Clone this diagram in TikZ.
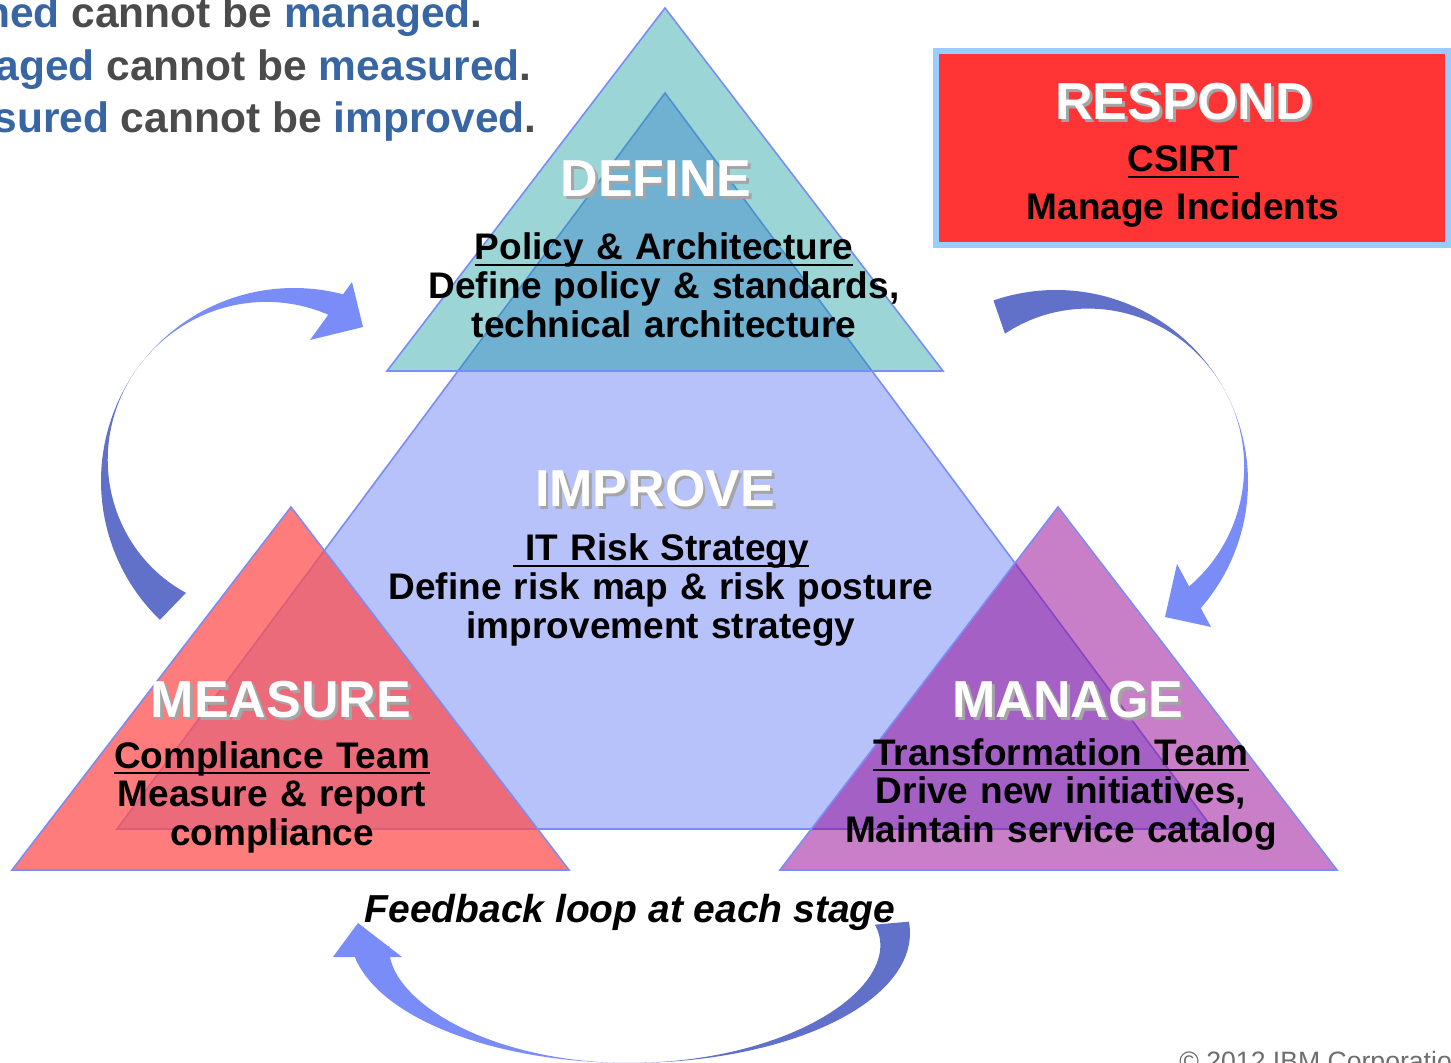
\documentclass[tikz,border=0pt]{standalone}
\usepackage{fontspec}
\setmainfont{Liberation Sans}
\usetikzlibrary{positioning}

\definecolor{improvefill}{RGB}{184,194,250}
\definecolor{edgeblue}{RGB}{122,140,245}
\definecolor{definecol}{RGB}{5,152,152}
\definecolor{measurecol}{RGB}{255,76,76}
\definecolor{managecol}{RGB}{147,0,147}
\definecolor{arrowlight}{RGB}{122,140,248}
\definecolor{arrowdark}{RGB}{97,112,200}
\definecolor{respondred}{RGB}{255,52,52}
\definecolor{respondframe}{RGB}{153,204,255}
\definecolor{quoteblue}{RGB}{55,102,163}
\definecolor{quotegray}{RGB}{75,75,75}
\definecolor{titleshade}{RGB}{165,165,165}
\definecolor{copygray}{RGB}{110,110,110}

% underline at a fixed depth, so descenders cross it
\newsavebox{\ulbox}
\newcommand{\ulined}[1]{\sbox{\ulbox}{#1}\rlap{\rule[-3pt]{\wd\ulbox}{1pt}}\usebox{\ulbox}}

% curved band between an outer ellipse and an inner one that touches it at angle #8
% [style] {cx}{cy}{rx}{ry}{from}{to}{touch angle}{max thickness}
\newcommand{\ribbon}[9][]{%
  \fill[#1] plot[domain=#6:#7, samples=60] ({#2+#4*cos(\x)}, {#3+#5*sin(\x)})
    -- plot[domain=#7:#6, samples=60]
       ({#2+(#4-#9*(1-cos(\x-(#8))))*cos(\x)}, {#3+(#5-#9*(1-cos(\x-(#8))))*sin(\x)})
    -- cycle;}

\tikzset{
  stage/.style={draw=edgeblue, line width=0.8pt},
  titletext/.style={font=\fontsize{26}{28}\selectfont\bfseries, text=white,
    inner sep=0pt, anchor=base},
  titleshadow/.style={titletext, text=titleshade, xshift=1.4pt, yshift=-1.4pt},
  bodytext/.style={font=\fontsize{18.5}{19.4}\selectfont\bfseries, text width=320pt,
    align=center, inner sep=0pt, anchor=base},
  quoteline/.style={font=\fontsize{21.25}{24}\selectfont\bfseries, text=quotegray,
    inner sep=0pt, anchor=base east},
  respondbox/.style={fill=respondred, draw=respondframe, line width=3pt},
}

\begin{document}
\begin{tikzpicture}[x=0.5pt, y=-0.5pt]
  \useasboundingbox (0,0) rectangle (1451,1063);
  \clip (0,0) rectangle (1451,1063);
  \fill[white] (0,0) rectangle (1451,1063);

  % the four stages
  \draw[stage, fill=improvefill] (665,93) -- (1213,829) -- (117,829) -- cycle;
  \draw[stage, fill=definecol, fill opacity=0.4] (665,8) -- (943,371) -- (387,371) -- cycle;
  \draw[stage, fill=measurecol, fill opacity=0.73] (291,507) -- (569,870) -- (12,870) -- cycle;
  \draw[stage, fill=managecol, fill opacity=0.5] (1058,507) -- (1337,870) -- (780,870) -- cycle;

  % cycle arrows: measure -> define
  \ribbon[arrowdark]{294}{481}{193}{193}{134}{215.5}{215.5}{44}
  \ribbon[arrowlight]{294}{481}{193}{193}{215.5}{287}{215.5}{39}
  \fill[arrowlight] (352,282) -- (363,327) -- (310,340) -- cycle;
  % define -> manage
  \ribbon[arrowdark]{1056}{482}{192}{192}{251}{331.6}{331.6}{42}
  \ribbon[arrowlight]{1056}{482}{192}{192}{331.6}{402}{331.6}{38}
  \fill[arrowlight] (1177,564) -- (1165,617) -- (1211,627) -- cycle;
  % manage -> measure
  \ribbon[arrowdark]{630}{933}{280}{130}{-5}{91}{91}{31}
  \ribbon[arrowlight]{630}{933}{280}{130}{91}{172}{91}{44}
  \fill[arrowlight] (333,957) -- (358,923) -- (402,957) -- cycle;

  \filldraw[respondbox] (935.5,51.5) rectangle (1447.5,245.5);

  % stage titles with a drop shadow
  \foreach \name/\x/\y/\word in {define/656/197/DEFINE, improve/655/507/IMPROVE,
      measure/281/718/MEASURE, manage/1068/718/MANAGE, respond/1184/120/RESPOND} {
    \node[titleshadow] (\name-shadow) at (\x,\y) {\word};
    \node[titletext] (\name-title) at (\x,\y) {\word};
  }

  \node[bodytext] (define-text) at (664,260)
    {\ulined{Policy \& Architecture}\\Define policy \& standards,\\technical architecture};
  \node[bodytext] (improve-text) at (661,561)
    {\ulined{\ IT Risk Strategy}\\Define risk map \& risk posture\hspace*{9pt}\\improvement strategy};
  \node[bodytext] (measure-text) at (272,768)
    {\ulined{Compliance Team}\\Measure \& report\\compliance};
  \node[bodytext] (manage-text) at (1061,765)
    {\ulined{Transformation Team}\\Drive new initiatives,\hspace*{10pt}\\Maintain service catalog};
  \node[bodytext, font=\fontsize{18.5}{24}\selectfont\bfseries] (respond-text) at (1183,172)
    {\ulined{CSIRT}\\Manage Incidents};

  \node[font=\fontsize{19.5}{22}\selectfont\bfseries\itshape, inner sep=0pt, anchor=base]
    (feedback) at (630,922) {Feedback loop at each stage};

  \node[quoteline] (quote-managed) at (483,28)
    {\textcolor{quoteblue}{ned} cannot be \textcolor{quoteblue}{managed}.};
  \node[quoteline] (quote-measured) at (532,81)
    {\textcolor{quoteblue}{aged} cannot be \textcolor{quoteblue}{measured}.};
  \node[quoteline] (quote-improved) at (537,133)
    {\textcolor{quoteblue}{sured} cannot be \textcolor{quoteblue}{improved}.};

  \node[font=\fontsize{13.3}{15}\selectfont, text=copygray, inner sep=0pt, anchor=base west]
    (copyright) at (1179,1070) {© 2012 IBM Corporatio};
\end{tikzpicture}
\end{document}
